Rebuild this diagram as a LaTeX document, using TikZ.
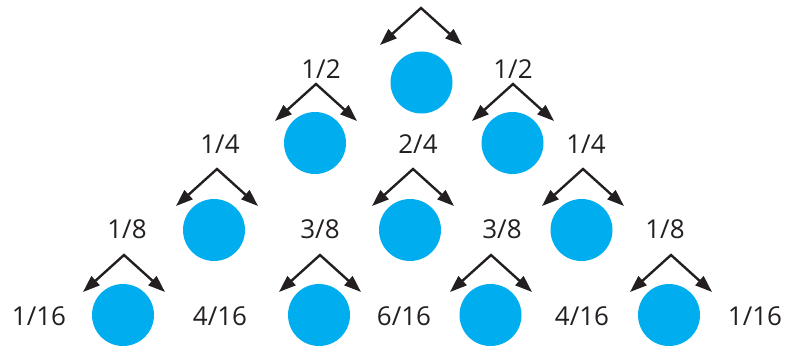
\documentclass[tikz,border=0pt]{standalone}
\usepackage{fontspec}
\setmainfont{Open Sans}
\usetikzlibrary{arrows.meta}
\definecolor{ballblue}{RGB}{0,174,239}
\definecolor{ink}{RGB}{35,31,32}
\tikzset{
  ball/.style={circle,fill=ballblue,minimum size=62pt,inner sep=0pt},
  lbl/.style={anchor=base,text=ink,font=\fontsize{26}{26}\selectfont,inner sep=0pt},
  split/.style={draw=ink,line width=2.4pt,line join=miter,
    {Triangle[length=17pt,width=12pt]}-{Triangle[length=17pt,width=12pt]}}
}
\newcommand\splitarrow[3]{%
  \coordinate (#1) at (#2,#3);
  \coordinate (#1l) at ({#2-41},{#3+37});
  \coordinate (#1r) at ({#2+41},{#3+37});
  \draw[split] (#1l) -- (#1) -- (#1r);}
\begin{document}
\begin{tikzpicture}[x=1pt,y=-1pt]
\useasboundingbox (0,0) rectangle (786,345);
% balls
\node[ball] (b00) at (421.5,82.5) {};
\node[ball] (b10) at (315,143) {};
\node[ball] (b11) at (512.5,143) {};
\node[ball] (b20) at (214,230) {};
\node[ball] (b21) at (410,230) {};
\node[ball] (b22) at (581.5,230) {};
\node[ball] (b30) at (123,315) {};
\node[ball] (b31) at (319,315) {};
\node[ball] (b32) at (490.5,315) {};
\node[ball] (b33) at (669,315) {};
% arrows
\splitarrow{f00}{421}{8}
\splitarrow{f10}{316}{84}
\splitarrow{f11}{513}{84}
\splitarrow{f20}{217}{169}
\splitarrow{f21}{413}{169}
\splitarrow{f22}{583}{169}
\splitarrow{f30}{124}{255}
\splitarrow{f31}{320}{255}
\splitarrow{f32}{491}{255}
\splitarrow{f33}{671}{255}
% labels
\node[lbl] (l10) at (321,78) {1/2};
\node[lbl] (l11) at (513,78) {1/2};
\node[lbl] (l20) at (220,153) {1/4};
\node[lbl] (l21) at (418,153) {2/4};
\node[lbl] (l22) at (586,153) {1/4};
\node[lbl] (l30) at (127,238) {1/8};
\node[lbl] (l31) at (320,238) {3/8};
\node[lbl] (l32) at (502,238) {3/8};
\node[lbl] (l33) at (665,238) {1/8};
\node[lbl] (l40) at (39,325) {1/16};
\node[lbl] (l41) at (220,325) {4/16};
\node[lbl] (l42) at (404,325) {6/16};
\node[lbl] (l43) at (582,325) {4/16};
\node[lbl] (l44) at (755,325) {1/16};
\end{tikzpicture}
\end{document}
